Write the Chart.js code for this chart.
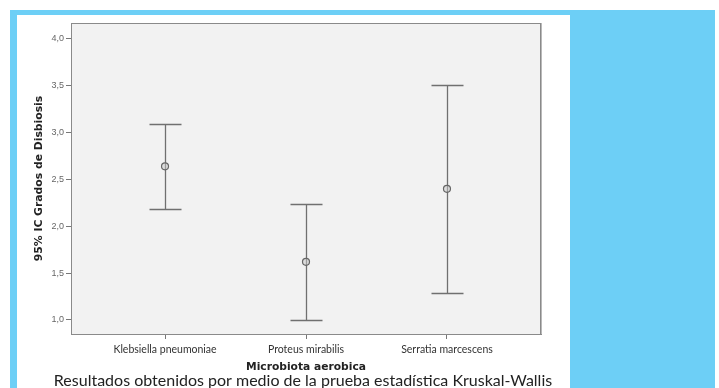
<!DOCTYPE html>
<html>
<head>
<meta charset="utf-8">
<script src="https://cdn.jsdelivr.net/npm/chart.js@4.4.1/dist/chart.umd.min.js"></script>
<style>
  html, body { margin: 0; padding: 0; background: #ffffff; }
  #wrap { width: 719px; height: 388px; }
</style>
</head>
<body>
<div id="wrap"><canvas id="c" width="719" height="388"></canvas></div>
<script>
// Microbiota groups and their 95% confidence intervals for dysbiosis grade
const categories = ['Klebsiella pneumoniae', 'Proteus mirabilis', 'Serratia marcescens'];
const means = [2.64, 1.62, 2.40];
const lowerCI = [2.18, 1.00, 1.29];
const upperCI = [3.09, 2.24, 3.51];
const yTicks = [1.0, 1.5, 2.0, 2.5, 3.0, 3.5, 4.0];
const yTickLabels = ['1,0', '1,5', '2,0', '2,5', '3,0', '3,5', '4,0'];

const yAxisTitle = '95% IC Grados de Disbiosis';
const xAxisTitle = 'Microbiota aerobica';
const caption = 'Resultados obtenidos por medio de la prueba estadística Kruskal-Wallis';

const BAR_COLOR = '#707070';

// Page backdrop: blue band with a white panel, and the grey plot field
const backdrop = {
  id: 'backdrop',
  beforeDraw(chart) {
    const { ctx, chartArea: a } = chart;
    ctx.save();
    ctx.fillStyle = '#ffffff';
    ctx.fillRect(0, 0, chart.width, chart.height);
    ctx.fillStyle = '#6dcff6';
    ctx.fillRect(10, 10, 705, 378);
    ctx.fillStyle = '#ffffff';
    ctx.fillRect(17, 15, 553, 373);
    ctx.fillStyle = '#f2f2f2';
    ctx.fillRect(a.left, a.top, a.right - a.left, a.bottom - a.top);
    ctx.restore();
  },
  afterDraw(chart) {
    const { ctx, chartArea: a } = chart;
    ctx.save();
    ctx.strokeStyle = '#8a8a8a';
    ctx.lineWidth = 1;
    ctx.beginPath();
    ctx.moveTo(a.left, a.top + 0.5);
    ctx.lineTo(a.right - 0.5, a.top + 0.5);
    ctx.stroke();
    ctx.lineWidth = 1.6;
    ctx.beginPath();
    ctx.moveTo(a.right - 0.2, a.top);
    ctx.lineTo(a.right - 0.2, a.bottom);
    ctx.stroke();
    // figure caption
    ctx.fillStyle = '#222222';
    ctx.font = '16px Lato';
    ctx.textAlign = 'center';
    ctx.textBaseline = 'middle';
    ctx.fillText(caption, 303, 381);
    ctx.restore();
  }
};

// Whiskers with caps for each confidence interval
const errorBars = {
  id: 'errorBars',
  beforeDatasetsDraw(chart) {
    const { ctx, scales: { x, y } } = chart;
    const capHalf = 16;
    ctx.save();
    ctx.strokeStyle = BAR_COLOR;
    ctx.lineWidth = 1.3;
    categories.forEach((c, i) => {
      const px = Math.round(x.getPixelForValue(i + 1)) + 0.5;
      const yLo = Math.round(y.getPixelForValue(lowerCI[i])) + 0.5;
      const yHi = Math.round(y.getPixelForValue(upperCI[i])) + 0.5;
      ctx.beginPath();
      ctx.moveTo(px, yLo);
      ctx.lineTo(px, yHi);
      ctx.moveTo(px - capHalf, yHi);
      ctx.lineTo(px + capHalf, yHi);
      ctx.moveTo(px - capHalf, yLo);
      ctx.lineTo(px + capHalf, yLo);
      ctx.stroke();
    });
    ctx.restore();
  }
};

function zeroPadding(s) {
  s.paddingTop = 0; s.paddingBottom = 0; s.paddingLeft = 0; s.paddingRight = 0;
}

new Chart(document.getElementById('c'), {
  type: 'scatter',
  data: {
    datasets: [{
      data: categories.map((c, i) => ({ x: i + 1, y: means[i] })),
      pointRadius: 3.5,
      pointHoverRadius: 3.5,
      pointBorderWidth: 1.2,
      borderColor: '#666666',
      backgroundColor: 'rgba(200,200,200,0.5)'
    }]
  },
  options: {
    responsive: false,
    devicePixelRatio: 1,
    animation: false,
    events: [],
    layout: { padding: { left: 0, top: 23, right: 178, bottom: 0 } },
    plugins: { legend: { display: false }, tooltip: { enabled: false } },
    scales: {
      x: {
        type: 'linear',
        min: 0.333,
        max: 3.667,
        afterBuildTicks(s) { s.ticks = categories.map((c, i) => ({ value: i + 1 })); },
        afterFit(s) { s.height = 54; zeroPadding(s); },
        ticks: {
          callback: (v) => categories[v - 1],
          color: '#333333',
          font: { family: 'Lato', size: 10.5 },
          padding: 4,
          maxRotation: 0,
          autoSkip: false
        },
        grid: { drawOnChartArea: false, tickLength: 5, color: '#777777' },
        border: { display: true, color: '#8a8a8a', width: 1 },
        title: {
          display: true,
          text: xAxisTitle,
          color: '#222222',
          font: { family: 'DejaVu Sans', size: 10.7, weight: 'bold' },
          padding: { top: 0, bottom: 14 }
        }
      },
      y: {
        type: 'linear',
        min: 0.85,
        max: 4.17,
        afterBuildTicks(s) { s.ticks = yTicks.map(v => ({ value: v })); },
        afterFit(s) { s.width = 71; zeroPadding(s); },
        ticks: {
          callback: (v) => yTickLabels[yTicks.indexOf(v)],
          color: '#666666',
          font: { family: 'Liberation Sans', size: 9 },
          padding: 2
        },
        grid: { drawOnChartArea: false, tickLength: 5, color: '#777777' },
        border: { display: true, color: '#8a8a8a', width: 1 },
        title: {
          display: true,
          text: yAxisTitle,
          color: '#222222',
          font: { family: 'DejaVu Sans', size: 10.8, weight: 'bold' },
          padding: { top: 33, bottom: 0 }
        }
      }
    }
  },
  plugins: [backdrop, errorBars]
});
</script>
</body>
</html>
